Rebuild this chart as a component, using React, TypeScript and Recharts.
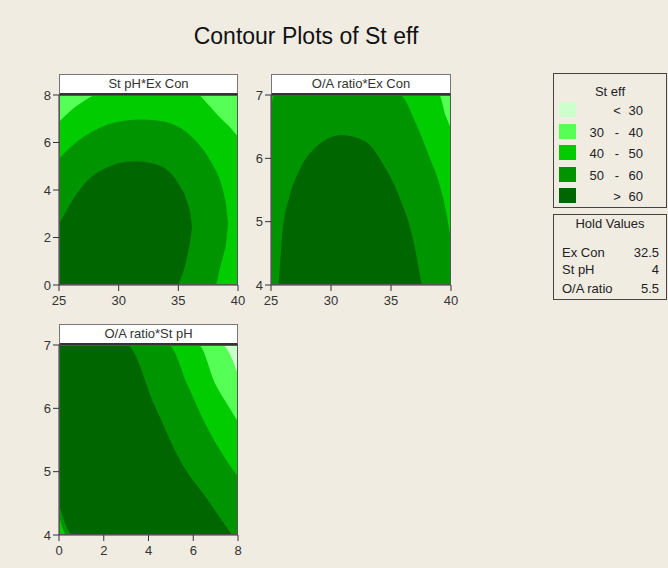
import React from "react";
import { ComposedChart, Area, XAxis, YAxis, CartesianGrid } from "recharts";

// St eff band colours, low -> high
const bandColors = ["#CCFFCC", "#55FF55", "#00CC00", "#009400", "#006600"];
const bandLabels = [
  ["", "<", "30"],
  ["30", "-", "40"],
  ["40", "-", "50"],
  ["50", "-", "60"],
  ["", ">", "60"],
];

const exConTicks = [25, 30, 35, 40];
const stPhTicks = [0, 2, 4, 6, 8];
const oaTicks = [4, 5, 6, 7];

const holdNames = ["Ex Con", "St pH", "O/A ratio"];
const holdValues = ["32.5", "4", "5.5"];

// contour regions: x, band = [low, high] of the region where St eff is above the level

// St pH * Ex Con
const p1Above40 = [
  { x: 25, band: [0, 6.87] },
  { x: 26, band: [0, 7.35] },
  { x: 27, band: [0, 7.72] },
  { x: 28.2, band: [0, 8] },
  { x: 36.6, band: [0, 8] },
  { x: 37.5, band: [0, 7.6] },
  { x: 38.3, band: [0, 7.15] },
  { x: 39.4, band: [0, 6.6] },
  { x: 40, band: [0, 6.24] },
];
const p1Above50 = [
  { x: 25, band: [0, 5.32] },
  { x: 26.3, band: [0, 5.95] },
  { x: 28, band: [0, 6.52] },
  { x: 29.7, band: [0, 6.84] },
  { x: 31.9, band: [0, 6.97] },
  { x: 33.85, band: [0, 6.87] },
  { x: 35.8, band: [0, 6.38] },
  { x: 37.5, band: [0, 5.39] },
  { x: 38.1, band: [0, 4.85] },
  { x: 38.5, band: [0.74, 4.4] },
  { x: 38.8, band: [1.3, 3.85] },
  { x: 39.0, band: [1.75, 3.35] },
  { x: 39.16, band: [2.6, 2.6] },
];
const p1Above60 = [
  { x: 25, band: [0, 2.57] },
  { x: 26.3, band: [0, 3.7] },
  { x: 27.4, band: [0, 4.4] },
  { x: 28.8, band: [0, 4.9] },
  { x: 31.3, band: [0, 5.21] },
  { x: 33.0, band: [0, 5.1] },
  { x: 34.4, band: [0, 4.69] },
  { x: 34.97, band: [0, 4.3] },
  { x: 35.2, band: [0.28, 4.1] },
  { x: 35.5, band: [0.7, 3.84] },
  { x: 35.8, band: [1.35, 3.4] },
  { x: 36.0, band: [1.85, 3.0] },
  { x: 36.15, band: [2.45, 2.45] },
];

// O/A ratio * Ex Con
const p2Above40 = [
  { x: 25, band: [4, 7] },
  { x: 39, band: [4, 7] },
  { x: 39.58, band: [4, 6.66] },
  { x: 40, band: [4, 6.47] },
];
const p2Above50 = [
  { x: 25, band: [4, 6.81] },
  { x: 25.3, band: [4, 7] },
  { x: 35.7, band: [4, 7] },
  { x: 37.08, band: [4, 6.55] },
  { x: 38.2, band: [4, 6.02] },
  { x: 39.03, band: [4, 5.6] },
  { x: 39.58, band: [4, 5.17] },
  { x: 40, band: [4, 4.7] },
];
const p2Above60 = [
  { x: 25.64, band: [4, 4] },
  { x: 25.97, band: [4, 4.86] },
  { x: 26.53, band: [4, 5.39] },
  { x: 27.36, band: [4, 5.81] },
  { x: 28.75, band: [4, 6.18] },
  { x: 30.9, band: [4, 6.37] },
  { x: 32.9, band: [4, 6.26] },
  { x: 34.3, band: [4, 5.92] },
  { x: 35.7, band: [4, 5.39] },
  { x: 36.8, band: [4, 4.75] },
  { x: 37.56, band: [4, 4] },
];

// O/A ratio * St pH
const p3Above30 = [
  { x: 0, band: [4, 7] },
  { x: 7.28, band: [4, 7] },
  { x: 8, band: [4, 6.53] },
];
const p3Above40 = [
  { x: 0, band: [4, 7] },
  { x: 6.23, band: [4, 7] },
  { x: 6.98, band: [4, 6.39] },
  { x: 7.58, band: [4, 6.03] },
  { x: 8, band: [4, 5.79] },
];
const p3Above50 = [
  { x: 0, band: [4.3, 7] },
  { x: 0.35, band: [4, 7] },
  { x: 4.89, band: [4, 7] },
  { x: 5.78, band: [4, 6.34] },
  { x: 6.53, band: [4, 5.76] },
  { x: 7.28, band: [4, 5.29] },
  { x: 8, band: [4, 4.92] },
];
const p3Above60 = [
  { x: 0, band: [4.48, 7] },
  { x: 0.63, band: [4, 7] },
  { x: 3.02, band: [4, 7] },
  { x: 4.29, band: [4, 6.03] },
  { x: 5.49, band: [4, 5.13] },
  { x: 6.53, band: [4, 4.61] },
  { x: 7.73, band: [4, 4] },
];

const font = "'Liberation Sans', Arial, sans-serif";
const bg = "#F0ECE2";
const tickStyle = { fontSize: 13, fill: "#333", fontFamily: font };

type Region = { data: { x: number; band: number[] }[]; color: string };

type PanelProp = {
  left: number;
  top: number;
  w: number;
  h: number;
  title: string;
  xDomain: [number, number];
  xTicks: number[];
  yDomain: [number, number];
  yTicks: number[];
  base: string;
  regions: Region[];
};

function Panel({ left, top, w, h, title, xDomain, xTicks, yDomain, yTicks, base, regions }: PanelProp) {
  return (
    <>
      <div
        style={{
          position: "absolute",
          left,
          top: top - 21,
          width: w,
          height: 21,
          boxSizing: "border-box",
          background: "#fff",
          border: "1px solid #777",
          borderBottom: "2px solid #333",
          fontFamily: font,
          fontSize: 13,
          color: "#333",
          textAlign: "center",
          lineHeight: "18px",
        }}
      >
        {title}
      </div>
      <div style={{ position: "absolute", left: left - 40, top: top - 10 }}>
        <ComposedChart width={w + 52} height={h + 40} margin={{ top: 10, right: 12, bottom: 0, left: 0 }}>
          <CartesianGrid horizontal={false} vertical={false} fill={base} fillOpacity={1} />
          <XAxis
            type="number"
            dataKey="x"
            domain={xDomain}
            ticks={xTicks}
            allowDataOverflow
            height={30}
            tick={tickStyle}
            tickSize={6}
            tickMargin={5}
            stroke="#333"
            interval={0}
          />
          <YAxis
            type="number"
            domain={yDomain}
            ticks={yTicks}
            allowDataOverflow
            width={40}
            tick={tickStyle}
            tickSize={6}
            stroke="#333"
            interval={0}
          />
          {regions.map((r, i) => (
            <Area
              key={i}
              data={r.data}
              dataKey="band"
              type="monotone"
              fill={r.color}
              fillOpacity={1}
              stroke="none"
              dot={false}
              activeDot={false}
              isAnimationActive={false}
            />
          ))}
        </ComposedChart>
      </div>
      <div
        style={{
          position: "absolute",
          left,
          top,
          width: w,
          height: h,
          boxSizing: "border-box",
          border: "1px solid #555",
          pointerEvents: "none",
        }}
      />
    </>
  );
}

const textBox = (left: number, top: number, extra: React.CSSProperties = {}): React.CSSProperties => ({
  position: "absolute",
  left,
  top,
  lineHeight: "16px",
  fontFamily: font,
  fontSize: 13,
  color: "#222",
  whiteSpace: "nowrap",
  ...extra,
});

export default function App() {
  return (
    <div style={{ position: "absolute", left: 0, top: 0, width: 668, height: 568, background: bg, overflow: "hidden" }}>
      <div
        style={{
          position: "absolute",
          left: 0,
          width: 612,
          top: 25,
          textAlign: "center",
          fontFamily: font,
          fontSize: 23,
          lineHeight: "23px",
          color: "#111",
        }}
      >
        Contour Plots of St eff
      </div>

      <Panel
        left={59}
        top={95}
        w={179}
        h={190}
        title="St pH*Ex Con"
        xDomain={[25, 40]}
        xTicks={exConTicks}
        yDomain={[0, 8]}
        yTicks={stPhTicks}
        base={bandColors[1]}
        regions={[
          { data: p1Above40, color: bandColors[2] },
          { data: p1Above50, color: bandColors[3] },
          { data: p1Above60, color: bandColors[4] },
        ]}
      />
      <Panel
        left={271}
        top={95}
        w={180}
        h={190}
        title="O/A ratio*Ex Con"
        xDomain={[25, 40]}
        xTicks={exConTicks}
        yDomain={[4, 7]}
        yTicks={oaTicks}
        base={bandColors[1]}
        regions={[
          { data: p2Above40, color: bandColors[2] },
          { data: p2Above50, color: bandColors[3] },
          { data: p2Above60, color: bandColors[4] },
        ]}
      />
      <Panel
        left={59}
        top={345}
        w={179}
        h={190}
        title="O/A ratio*St pH"
        xDomain={[0, 8]}
        xTicks={stPhTicks}
        yDomain={[4, 7]}
        yTicks={oaTicks}
        base={bandColors[0]}
        regions={[
          { data: p3Above30, color: bandColors[1] },
          { data: p3Above40, color: bandColors[2] },
          { data: p3Above50, color: bandColors[3] },
          { data: p3Above60, color: bandColors[4] },
        ]}
      />

      {/* colour legend */}
      <div
        style={{
          position: "absolute",
          left: 553,
          top: 73,
          width: 114,
          height: 135,
          boxSizing: "border-box",
          border: "1px solid #444",
        }}
      >
        <div style={textBox(0, 10, { width: 112, textAlign: "center" })}>St eff</div>
        {bandColors.map((c, i) => (
          <React.Fragment key={c}>
            <div
              style={{ position: "absolute", left: 5, top: 28 + i * 21.5, width: 17, height: 15, background: c }}
            />
            <div style={textBox(0, 28 + i * 21.5 + 1, { width: 50, textAlign: "right" })}>{bandLabels[i][0]}</div>
            <div style={textBox(56, 28 + i * 21.5 + 1, { width: 14, textAlign: "center" })}>{bandLabels[i][1]}</div>
            <div style={textBox(70, 28 + i * 21.5 + 1, { width: 19, textAlign: "right" })}>{bandLabels[i][2]}</div>
          </React.Fragment>
        ))}
      </div>

      {/* hold values */}
      <div
        style={{
          position: "absolute",
          left: 553,
          top: 214,
          width: 114,
          height: 86,
          boxSizing: "border-box",
          border: "1px solid #444",
        }}
      >
        <div style={textBox(0, 1, { width: 112, textAlign: "center" })}>Hold Values</div>
        {holdNames.map((n, i) => (
          <React.Fragment key={n}>
            <div style={textBox(8, [30, 47, 66][i])}>{n}</div>
            <div style={textBox(60, [30, 47, 66][i], { width: 45, textAlign: "right" })}>{holdValues[i]}</div>
          </React.Fragment>
        ))}
      </div>
    </div>
  );
}
